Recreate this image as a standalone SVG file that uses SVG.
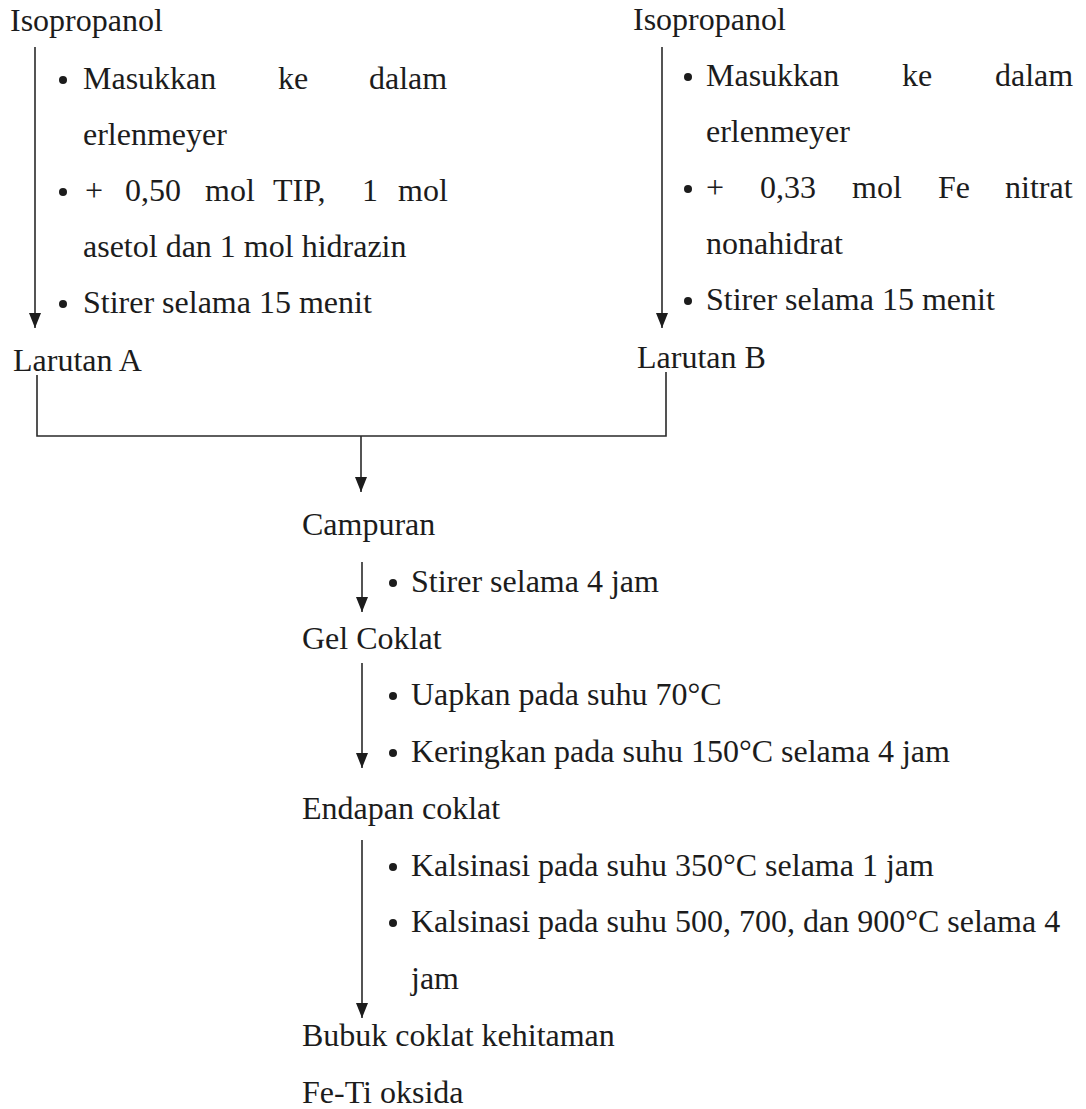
<svg xmlns="http://www.w3.org/2000/svg" width="1086" height="1109" viewBox="0 0 1086 1109">
<defs>
<style>
text{font-family:"Liberation Serif","Times New Roman",serif;font-size:32px;fill:#1c1c1c}
.ln{fill:none;stroke:#2a2a2a;stroke-width:1.6}
.b{fill:#1c1c1c}
</style>
<marker id="ah" viewBox="0 0 12 15" refX="6" refY="15" markerWidth="12" markerHeight="15" markerUnits="userSpaceOnUse" orient="0">
<path d="M0,0 L12,0 L6,15 z" fill="#1c1c1c"/>
</marker>
</defs>
<rect width="1086" height="1109" fill="#ffffff"/>

<g id="connectors">
<path class="ln" d="M35,47 L35,328" marker-end="url(#ah)"/>
<path class="ln" d="M662,47 L662,328" marker-end="url(#ah)"/>
<path class="ln" d="M37,375 L37,436 L666,436 L666,372"/>
<path class="ln" d="M361,436 L361,492" marker-end="url(#ah)"/>
<path class="ln" d="M362,562 L362,612" marker-end="url(#ah)"/>
<path class="ln" d="M362,663 L362,768" marker-end="url(#ah)"/>
<path class="ln" d="M362,840 L362,1018" marker-end="url(#ah)"/>
</g>

<g id="node-isopropanol-a"><text x="10" y="31">Isopropanol</text></g>
<g id="steps-a">
<circle class="b" cx="63" cy="80" r="4"/>
<circle class="b" cx="63" cy="192" r="4"/>
<circle class="b" cx="63" cy="304" r="4"/>
<text y="89"><tspan x="83">Masukkan</tspan><tspan x="278">ke</tspan><tspan x="369">dalam</tspan></text>
<text x="83" y="145">erlenmeyer</text>
<text y="201"><tspan x="85">+</tspan><tspan x="125">0,50</tspan><tspan x="205">mol</tspan><tspan x="273">TIP,</tspan><tspan x="362">1</tspan><tspan x="398">mol</tspan></text>
<text x="83" y="257">asetol dan 1 mol hidrazin</text>
<text x="83" y="313">Stirer selama 15 menit</text>
</g>
<g id="node-larutan-a"><text x="13" y="371">Larutan A</text></g>

<g id="node-isopropanol-b"><text x="633" y="30">Isopropanol</text></g>
<g id="steps-b">
<circle class="b" cx="688" cy="77" r="4"/>
<circle class="b" cx="688" cy="189" r="4"/>
<circle class="b" cx="688" cy="301" r="4"/>
<text y="86"><tspan x="706">Masukkan</tspan><tspan x="902">ke</tspan><tspan x="995">dalam</tspan></text>
<text x="706" y="142">erlenmeyer</text>
<text y="198"><tspan x="706">+</tspan><tspan x="760">0,33</tspan><tspan x="852">mol</tspan><tspan x="938">Fe</tspan><tspan x="1005">nitrat</tspan></text>
<text x="706" y="254">nonahidrat</text>
<text x="706" y="310">Stirer selama 15 menit</text>
</g>
<g id="node-larutan-b"><text x="637" y="368">Larutan B</text></g>

<g id="node-campuran"><text x="302" y="535">Campuran</text></g>
<g id="steps-campuran">
<circle class="b" cx="393" cy="583" r="4"/>
<text x="411" y="592">Stirer selama 4 jam</text>
</g>
<g id="node-gel-coklat"><text x="302" y="649">Gel Coklat</text></g>
<g id="steps-gel">
<circle class="b" cx="393" cy="696" r="4"/>
<circle class="b" cx="393" cy="753" r="4"/>
<text x="411" y="705">Uapkan pada suhu 70°C</text>
<text x="411" y="762">Keringkan pada suhu 150°C selama 4 jam</text>
</g>
<g id="node-endapan"><text x="302" y="819">Endapan coklat</text></g>
<g id="steps-endapan">
<circle class="b" cx="393" cy="867" r="4"/>
<circle class="b" cx="393" cy="923" r="4"/>
<text x="411" y="876">Kalsinasi pada suhu 350°C selama 1 jam</text>
<text x="411" y="932">Kalsinasi pada suhu 500, 700, dan 900°C selama 4</text>
<text x="411" y="989">jam</text>
</g>
<g id="node-bubuk">
<text x="302" y="1046">Bubuk coklat kehitaman</text>
<text x="302" y="1103">Fe-Ti oksida</text>
</g>
</svg>
